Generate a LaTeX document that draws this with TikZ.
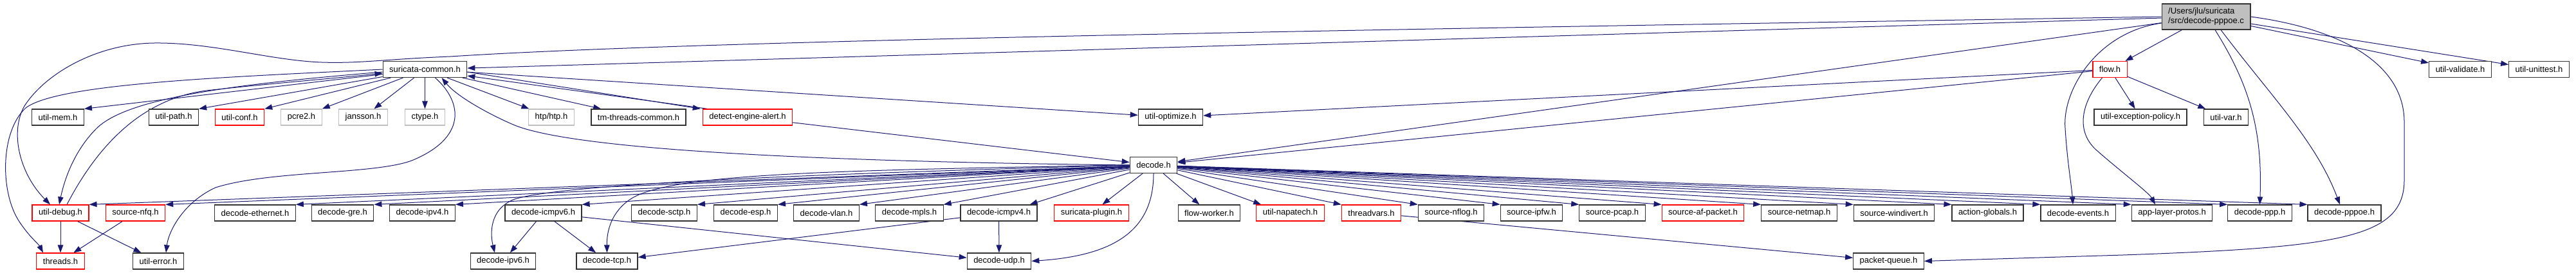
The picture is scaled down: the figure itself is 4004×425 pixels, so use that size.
\documentclass[tikz,border=0pt]{standalone}
\usepackage{fontspec}
\setmainfont{Liberation Sans}
\usetikzlibrary{arrows.meta,backgrounds}
\definecolor{dxedge}{HTML}{191970}
\definecolor{dxgrey}{HTML}{BFBFBF}
\tikzset{>={Triangle[length=12pt,width=8.5pt]},every node/.style={font=\fontsize{13}{15}\selectfont},
  hdr/.style={draw=black!80,line width=1.2pt,fill=white,minimum height=25pt,inner xsep=10pt,inner ysep=0pt},
  trunc/.style={hdr,draw=red},sys/.style={hdr,draw=dxgrey},incl/.style={->,draw=dxedge,line width=1pt}}
\begin{document}
\begin{tikzpicture}[x=1pt,y=-1pt]
\useasboundingbox (0,0) rectangle (4004,425);
\node[hdr,fill=dxgrey,align=left,minimum height=40pt] (src) at (3429,26){/Users/jlu/suricata\\/src/decode-pppoe.c};
\node[hdr] (scommon) at (660.5,108){suricata-common.h};\node[trunc] (flow) at (3279.5,108){flow.h};
\node[hdr] (uvalid) at (3824,108){util-validate.h};\node[hdr] (uunit) at (3946.5,108){util-unittest.h};
\node[hdr] (umem) at (90,182.5){util-mem.h};\node[hdr] (upath) at (270,182.5){util-path.h};\node[trunc] (uconf) at (372.5,182.5){util-conf.h};
\node[sys] (pcre) at (468.5,182.5){pcre2.h};\node[sys] (jansson) at (564.5,182.5){jansson.h};\node[sys] (ctype) at (660.5,182.5){ctype.h};
\node[sys] (htp) at (857,182.5){htp/htp.h};\node[hdr] (tmtc) at (992.5,182.5){tm-threads-common.h};\node[trunc] (dealert) at (1162,182.5){detect-engine-alert.h};
\node[hdr] (uopt) at (1819.5,182.5){util-optimize.h};\node[hdr] (uexcp) at (3327,182.5){util-exception-policy.h};\node[hdr] (uvar) at (3460,182.5){util-var.h};
\node[hdr] (decode) at (1793,257){decode.h};
\node[trunc] (udebug) at (94,331.5){util-debug.h};\node[trunc] (snfq) at (210.5,331.5){source-nfq.h};\node[hdr] (deth) at (396.5,331.5){decode-ethernet.h};
\node[hdr] (dgre) at (532.5,331.5){decode-gre.h};\node[hdr] (dipv4) at (656.5,331.5){decode-ipv4.h};\node[hdr] (dicmp6) at (844.5,331.5){decode-icmpv6.h};
\node[hdr] (dsctp) at (1032.5,331.5){decode-sctp.h};\node[hdr] (desp) at (1159,331.5){decode-esp.h};\node[hdr] (dvlan) at (1284.5,331.5){decode-vlan.h};
\node[hdr] (dmpls) at (1413.5,331.5){decode-mpls.h};\node[hdr] (dicmp4) at (1552.5,331.5){decode-icmpv4.h};\node[trunc] (splugin) at (1696.5,331.5){suricata-plugin.h};
\node[hdr] (fworker) at (1879.5,331.5){flow-worker.h};\node[trunc] (unapa) at (2005.5,331.5){util-napatech.h};\node[trunc] (tvars) at (2131.5,331.5){threadvars.h};
\node[hdr] (snflog) at (2255.5,331.5){source-nflog.h};\node[hdr] (sipfw) at (2380.5,331.5){source-ipfw.h};\node[hdr] (spcap) at (2506,331.5){source-pcap.h};
\node[trunc] (safp) at (2647,331.5){source-af-packet.h};\node[hdr] (snetmap) at (2796.5,331.5){source-netmap.h};\node[hdr] (swdiv) at (2944,331.5){source-windivert.h};
\node[hdr] (aglob) at (3089.5,331.5){action-globals.h};\node[hdr] (devents) at (3230,331.5){decode-events.h};\node[hdr] (approto) at (3376,331.5){app-layer-protos.h};
\node[hdr] (dppp) at (3512.5,331.5){decode-ppp.h};\node[hdr] (dpppoe) at (3644,331.5){decode-pppoe.h};
\node[trunc] (threads) at (94,406.5){threads.h};\node[hdr] (uerror) at (246,406.5){util-error.h};\node[hdr] (dipv6) at (782,406.5){decode-ipv6.h};
\node[hdr] (dtcp) at (943.5,406.5){decode-tcp.h};\node[hdr] (dudp) at (1553,406.5){decode-udp.h};\node[hdr] (pqueue) at (2935.5,406.5){packet-queue.h};
\begin{pgfonlayer}{background}
\draw[incl] (src)--(scommon);\draw[incl] (src)--(decode);\draw[incl] (src)--(flow);\draw[incl] (src)--(uvalid);\draw[incl] (src)--(uunit);
\draw[incl] (src.west) .. controls (2200,45) and (1100,62) .. (700,88) .. controls (600,92) and (560,99) .. (500,97) .. controls (420,94) and (330,66) .. (240,67) .. controls (150,68) and (70,115) .. (38,165) .. controls (15,205) and (30,270) .. ([xshift=-16]udebug.north);
\draw[incl] ([yshift=-10]src.west) .. controls (3260,50) and (3205,140) .. (3210,200) .. controls (3213,250) and (3220,290) .. ([xshift=-8]devents.north);
\draw[incl] ([xshift=14]src.south) .. controls (3495,130) and (3517,200) .. (dppp.north);
\draw[incl] ([xshift=23]src.south) .. controls (3530,150) and (3600,220) .. ([xshift=-7]dpppoe.north);
\draw[incl] (src.east) .. controls (3640,45) and (3737,100) .. (3737,190) -- (3737,280) .. controls (3737,370) and (3640,385) .. (3300,397) -- (pqueue.east);
\draw[incl] (scommon)--(umem.north east);\draw[incl] (scommon)--(upath.north east);\draw[incl] (scommon)--(uconf.north east);\draw[incl] (scommon)--(pcre.north east);
\draw[incl] (scommon)--(jansson);\draw[incl] (scommon)--(ctype);\draw[incl] (scommon)--(htp);\draw[incl] (scommon)--(tmtc);\draw[incl] (scommon)--(uopt);
\draw[incl] ([yshift=-4]scommon.east)--([xshift=-3]dealert.north west);\draw[incl] ([xshift=8]dealert.north west)--([yshift=-10]scommon.east);
\draw[incl] (scommon.west) .. controls (350,120) and (90,130) .. (40,168) .. controls (0,205) and (0,300) .. (30,345) .. controls (45,368) and (60,380) .. ([xshift=-27]threads.north);
\draw[incl] ([yshift=-4]scommon.west) .. controls (380,130) and (200,150) .. (150,200) .. controls (115,235) and (100,280) .. ([xshift=-2]udebug.north);
\draw[incl] ([xshift=10]udebug.north) .. controls (150,230) and (220,150) .. (330,140) .. controls (420,130) and (520,122) .. ([yshift=-6]scommon.west);
\draw[incl] ([xshift=16]scommon.south) .. controls (720,160) and (725,215) .. (640,250) .. controls (580,272) and (420,265) .. (335,292) .. controls (285,315) and (262,360) .. ([xshift=12]uerror.north);
\draw[incl] (decode.west) .. controls (1300,252) and (900,235) .. (800,195) .. controls (760,178) and (710,150) .. ([xshift=26]scommon.south);
\draw[incl] (dealert)--(decode);\draw[incl] (udebug)--(threads);\draw[incl] (udebug)--(uerror);\draw[incl] (snfq)--(threads);
\draw[incl] (flow)--(uopt);\draw[incl] (flow)--(decode);\draw[incl] (flow)--(uexcp);\draw[incl] (flow)--(uvar);
\draw[incl] ([xshift=-12]flow.south) .. controls (3235,160) and (3225,205) .. (3260,235) .. controls (3300,270) and (3340,300) .. ([xshift=-26]approto.north);
\draw[incl] (decode)--(udebug.north east);\draw[incl] (decode)--(snfq.north east);\draw[incl] (decode)--(deth.north east);\draw[incl] (decode)--(dgre.north east);
\draw[incl] (decode)--(dipv4.north east);\draw[incl] (decode)--(dicmp6.north east);\draw[incl] (decode)--(dsctp.north east);\draw[incl] (decode)--(desp.north east);
\draw[incl] (decode)--(dvlan.north east);\draw[incl] (decode)--(dmpls.north east);\draw[incl] (decode)--([xshift=-12]dicmp4.north east);
\draw[incl] (decode)--(splugin);\draw[incl] (decode)--(fworker);\draw[incl] (decode)--([xshift=8]unapa.north west);\draw[incl] (decode)--(tvars.north west);
\draw[incl] (decode)--(snflog.north west);\draw[incl] (decode)--(sipfw.north west);\draw[incl] (decode)--(spcap.north west);\draw[incl] (decode)--(safp.north west);
\draw[incl] (decode)--(snetmap.north west);\draw[incl] (decode)--(swdiv.north west);\draw[incl] (decode)--(aglob.north west);\draw[incl] (decode)--(devents.north west);
\draw[incl] (decode)--(approto.north west);\draw[incl] (decode)--(dppp.north west);\draw[incl] (decode)--(dpppoe.north west);
\draw[incl] (decode.south) .. controls (1793,360) and (1730,398) .. (dudp.east);
\draw[incl] (decode.west) .. controls (1300,270) and (880,285) .. (800,310) .. controls (760,325) and (762,365) .. ([xshift=-13]dipv6.north);
\draw[incl] (decode.west) .. controls (1300,265) and (1040,270) .. (980,310) .. controls (950,330) and (943,360) .. (dtcp.north);
\draw[incl] (dicmp6)--(dipv6);\draw[incl] (dicmp6)--(dtcp);\draw[incl] (dicmp6)--(dudp);\draw[incl] (dicmp4)--(dudp);\draw[incl] (dicmp4)--(dtcp);
\draw[incl] (tvars)--(pqueue);
\end{pgfonlayer}
\end{tikzpicture}
\end{document}
